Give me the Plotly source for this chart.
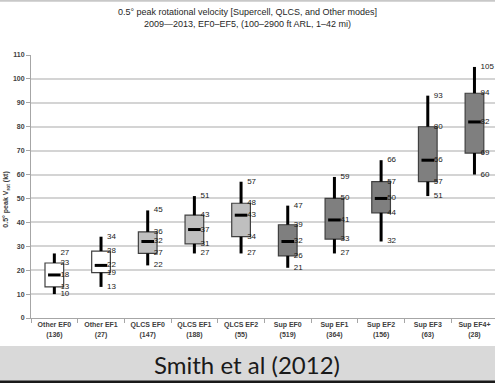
import plotly.graph_objects as go

# box-plot summary values (kt)
categories = ["Other EF0", "Other EF1", "QLCS EF0", "QLCS EF1", "QLCS EF2",
              "Sup EF0", "Sup EF1", "Sup EF2", "Sup EF3", "Sup EF4+"]
counts = [136, 27, 147, 188, 55, 519, 364, 156, 63, 28]
mins = [10, 13, 22, 27, 27, 21, 27, 32, 51, 60]
q1s = [13, 19, 27, 31, 34, 26, 33, 44, 57, 69]
medians = [18, 22, 32, 37, 43, 32, 41, 50, 66, 82]
q3s = [23, 28, 36, 43, 48, 39, 50, 57, 80, 94]
maxs = [27, 34, 45, 51, 57, 47, 59, 66, 93, 105]
box_colors = ["#ffffff", "#ffffff", "#bfbfbf", "#bfbfbf", "#bfbfbf",
              "#7f7f7f", "#7f7f7f", "#7f7f7f", "#7f7f7f", "#7f7f7f"]

xs = list(range(len(categories)))
tick_text = [f"{c}<br>({n})" for c, n in zip(categories, counts)]
font = "Liberation Sans, Arial, sans-serif"
small_bold = dict(size=7, color="#404040", family=font, weight="bold")

fig = go.Figure()

# boxes (q1 -> q3)
fig.add_trace(go.Bar(
    x=xs, y=[b - a for a, b in zip(q1s, q3s)], base=q1s, width=0.4,
    marker=dict(color=box_colors, line=dict(color="#404040", width=1.2)),
    hoverinfo="skip", showlegend=False,
))

# whiskers
wx, wy = [], []
for i in xs:
    wx += [i, i, None, i, i, None]
    wy += [mins[i], q1s[i], None, q3s[i], maxs[i], None]
fig.add_trace(go.Scatter(x=wx, y=wy, mode="lines",
                         line=dict(color="black", width=3),
                         hoverinfo="skip", showlegend=False))

# medians
fig.add_trace(go.Scatter(
    x=xs, y=medians, mode="markers",
    marker=dict(symbol="line-ew", size=9, line=dict(color="black", width=3)),
    hoverinfo="skip", showlegend=False,
))

# value labels
lx, ly, lt = [], [], []
for i in xs:
    for v in (mins[i], q1s[i], medians[i], q3s[i], maxs[i]):
        lx.append(i + 0.13)
        ly.append(v)
        lt.append(str(v))
fig.add_trace(go.Scatter(x=lx, y=ly, text=lt, mode="text",
                         textposition="middle right",
                         textfont=dict(size=8, color="#1a1a1a", family=font),
                         hoverinfo="skip", showlegend=False))

fig.update_layout(
    width=495, height=383,
    margin=dict(l=31, r=0, t=55, b=65),
    paper_bgcolor="white", plot_bgcolor="white",
    font=dict(family=font),
    hovermode=False,
    title=dict(
        text="0.5° peak rotational velocity [Supercell, QLCS, and Other modes]<br>"
             "2009—2013, EF0–EF5, (100–2900 ft ARL, 1–42 mi)",
        x=0.5, xref="container", xanchor="center",
        y=0.96, yref="container", yanchor="top",
        font=dict(size=9, color="#262626"),
    ),
    xaxis=dict(
        range=[-0.5, 9.44], tickvals=xs, ticktext=tick_text,
        ticks="", showgrid=False, zeroline=False,
        showline=True, linecolor="#a6a6a6", linewidth=1,
        tickfont=small_bold,
        minor=dict(tickvals=[i + 0.5 for i in xs[:-1]] + [-0.5], ticks="outside",
                   ticklen=4, tickcolor="#a6a6a6", showgrid=False),
    ),
    yaxis=dict(
        range=[0, 110], dtick=10, showgrid=True, gridcolor="#d4d4d4", gridwidth=1.5,
        zeroline=False, showline=True, linecolor="#a6a6a6", linewidth=1,
        ticks="outside", ticklen=4, tickcolor="#a6a6a6",
        tickfont=small_bold,
    ),
    shapes=[
        dict(type="rect", xref="paper", yref="paper", x0=-0.2, x1=1.1,
             y0=-0.26, y1=-0.106, fillcolor="#d9d9d9", line=dict(width=0), layer="below"),
        dict(type="rect", xref="paper", yref="paper", x0=-0.2, x1=1.1,
             y0=-0.26, y1=-0.238, fillcolor="#1a1a1a", line=dict(width=0)),
        dict(type="rect", xref="paper", yref="paper", x0=-0.2, x1=1.1,
             y0=1.202, y1=1.25, fillcolor="#c8c8c8", line=dict(width=0)),
    ],
    annotations=[
        dict(text="Smith et al (2012)", xref="paper", yref="paper",
             x=(247 - 31) / 464, y=-0.178, xanchor="center", yanchor="middle",
             showarrow=False, font=dict(size=24, color="#1a1a1a", family="Lato, sans-serif")),
        dict(text="0.5° peak V<sub>rot</sub> (kt)", xref="paper", yref="paper",
             x=(6 - 31) / 464, y=0.45, textangle=-90, xanchor="center", yanchor="middle",
             showarrow=False, font=small_bold),
    ],
)

# the page's default body margin would shift the figure by 8px
fig.write_html("out.html", config={"displayModeBar": False},
               post_script="document.body.style.margin='0px';")
